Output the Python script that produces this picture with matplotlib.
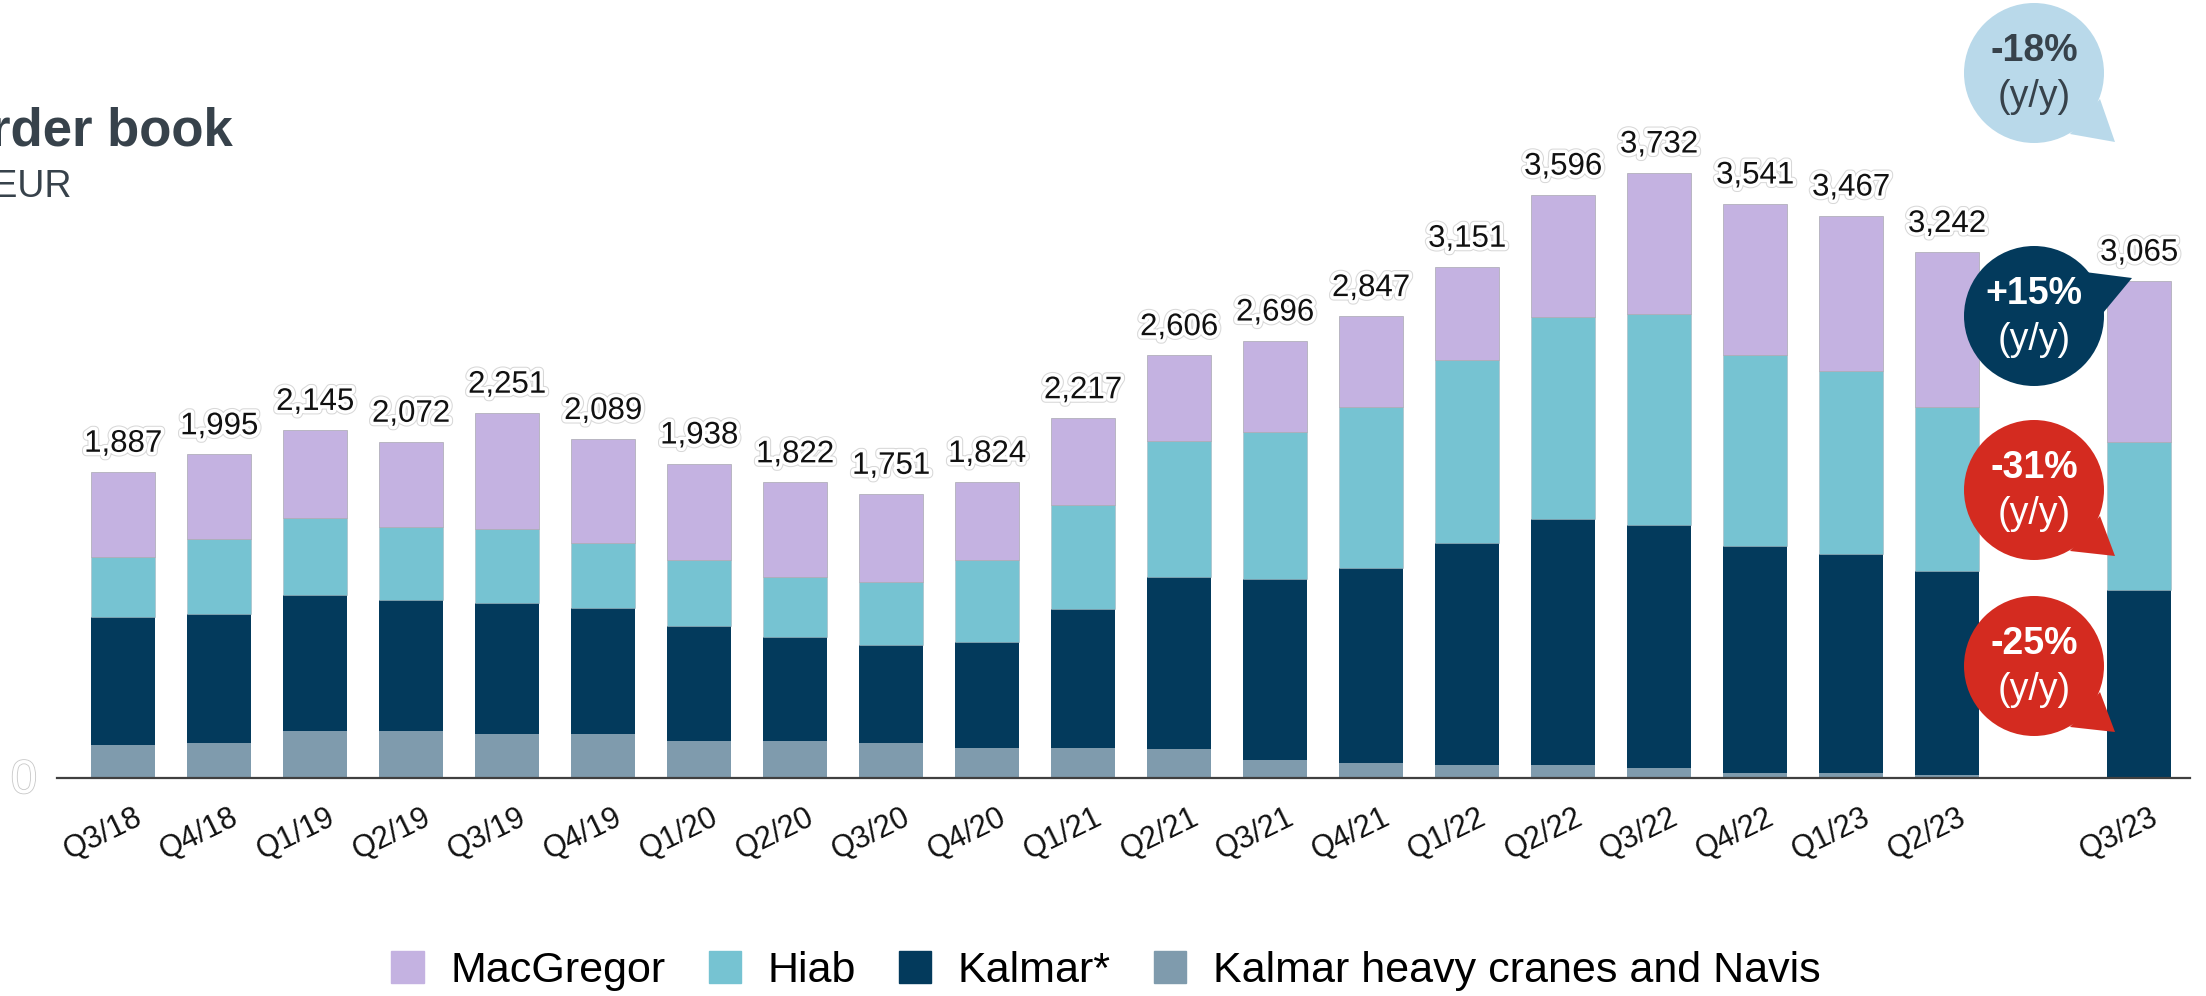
import matplotlib
matplotlib.use("Agg")
import matplotlib.pyplot as plt
import matplotlib.patheffects as pe
from matplotlib.patches import Circle, Polygon, Patch
from matplotlib.transforms import blended_transform_factory, ScaledTranslation

plt.rcParams['font.family'] = ['Liberation Sans', 'DejaVu Sans']

# quarters and their slot on the x axis (gap before Q3/23)
quarters = ['Q3/18', 'Q4/18', 'Q1/19', 'Q2/19', 'Q3/19', 'Q4/19', 'Q1/20', 'Q2/20',
            'Q3/20', 'Q4/20', 'Q1/21', 'Q2/21', 'Q3/21', 'Q4/21', 'Q1/22', 'Q2/22',
            'Q3/22', 'Q4/22', 'Q1/23', 'Q2/23', 'Q3/23']
slots = list(range(20)) + [21]

# order book, MEUR
heavy = [201, 218, 288, 288, 271, 271, 231, 231, 217, 182, 182, 178, 110, 94, 78, 78,
         60, 29, 29, 16, 0]
kalmar = [792, 796, 843, 808, 807, 774, 708, 641, 604, 657, 860, 1064, 1117, 1199, 1368,
          1517, 1501, 1400, 1352, 1261, 1158]
hiab = [369, 457, 473, 454, 455, 404, 405, 370, 390, 505, 641, 838, 907, 996, 1128, 1250,
        1301, 1180, 1127, 1010, 911]
macgregor = [525, 524, 541, 522, 718, 640, 594, 580, 540, 480, 534, 526, 562, 558, 577,
             751, 870, 932, 959, 955, 996]
totals = [1887, 1995, 2145, 2072, 2251, 2089, 1938, 1822, 1751, 1824, 2217, 2606, 2696,
          2847, 3151, 3596, 3732, 3541, 3467, 3242, 3065]

series_names = ['MacGregor', 'Hiab', 'Kalmar*', 'Kalmar heavy cranes and Navis']
colors = {'mac': '#c4b2e1', 'hiab': '#76c3d2', 'kalmar': '#033a5c', 'heavy': '#7f9bad'}

# y/y change bubbles
bubble_text = ['-18%', '+15%', '-31%', '-25%']
bubble_color = ['#b9d9ea', '#033a5c', '#d42b20', '#d42b20']
bubble_fg = ['#37424b', 'white', 'white', 'white']

W, H = 2206, 996
fig = plt.figure(figsize=(W / 100, H / 100), dpi=100)
ax = fig.add_axes([57 / W, 218 / H, (2190 - 57) / W, 678 / H])

w = 0.667
ax.bar(slots, heavy, w, color=colors['heavy'], zorder=2)
b1 = [h for h in heavy]
ax.bar(slots, kalmar, w, bottom=b1, color=colors['kalmar'], zorder=2)
b2 = [a + b for a, b in zip(b1, kalmar)]
ax.bar(slots, hiab, w, bottom=b2, color=colors['hiab'], edgecolor='#a8b8c0', linewidth=0.4, zorder=2)
b3 = [a + b for a, b in zip(b2, hiab)]
ax.bar(slots, macgregor, w, bottom=b3, color=colors['mac'], edgecolor='#a8a8b0', linewidth=0.5, zorder=2)

halo = [pe.Stroke(linewidth=6.5, foreground='#d8d8d8'), pe.Stroke(linewidth=5, foreground='white'), pe.Normal()]
for x, t in zip(slots, totals):
    ax.annotate(f"{t:,}", (x, t), xytext=(0, 14.5), textcoords='offset points',
                ha='center', va='baseline', fontsize=22.5, color='#111111', path_effects=halo)

ax.set_xlim(-0.69, 21.53)
ax.set_ylim(0, 4180)
ax.set_xticks([])
ax.set_yticks([])
for s in ['top', 'right', 'left']:
    ax.spines[s].set_visible(False)
ax.spines['bottom'].set_color('#404040')
ax.spines['bottom'].set_linewidth(1.6)
ax.patch.set_alpha(0)

# rotated quarter labels
trans = blended_transform_factory(ax.transData, ax.transAxes) + ScaledTranslation(-0.2, -0.56, fig.dpi_scale_trans)
for x, q in zip(slots, quarters):
    ax.text(x, 0, q, transform=trans, rotation=26, rotation_mode='anchor',
            ha='center', va='center', fontsize=22, color='#111111', clip_on=False)

# overlay in pixel coordinates for title and bubbles
ov = fig.add_axes([0, 0, 1, 1])
ov.set_xlim(0, W)
ov.set_ylim(H, 0)
ov.axis('off')

ov.text(-51, 145, 'Order book', fontsize=38, fontweight='bold', color='#37424b', va='baseline')
ov.text(-38, 197, 'MEUR', fontsize=27, color='#37424b', va='baseline')
ov.text(24, 781, '0', fontsize=34, color='white', ha='center', va='center',
        path_effects=[pe.Stroke(linewidth=1.2, foreground='#c8c8c8'), pe.Normal()])

centers = [(2034, 73), (2034, 316), (2034, 490), (2034, 666)]
tails = [[(66, 26), (36, 61), (81, 69)],
         [(51, -44), (69, -3), (98, -38)],
         [(66, 26), (36, 61), (81, 66)],
         [(66, 26), (36, 61), (81, 66)]]
for (cx, cy), txt, col, fg, tl in zip(centers, bubble_text, bubble_color, bubble_fg, tails):
    ov.add_patch(Circle((cx, cy), 70, color=col, lw=0))
    ov.add_patch(Polygon([(cx + dx, cy + dy) for dx, dy in tl], closed=True, color=col, lw=0))
    ov.text(cx, cy - 22, txt, ha='center', va='center', fontsize=27, fontweight='bold', color=fg)
    ov.text(cx, cy + 24, '(y/y)', ha='center', va='center', fontsize=27, color=fg)

handles = [Patch(color=colors[k]) for k in ['mac', 'hiab', 'kalmar', 'heavy']]
fig.legend(handles, series_names, loc='center', bbox_to_anchor=(1106 / W, 25 / H), ncol=4,
           frameon=False, fontsize=31, handlelength=0.75, handleheight=0.75,
           handletextpad=0.62, columnspacing=1.0, borderpad=0)

fig.savefig('out.png', dpi=100)
